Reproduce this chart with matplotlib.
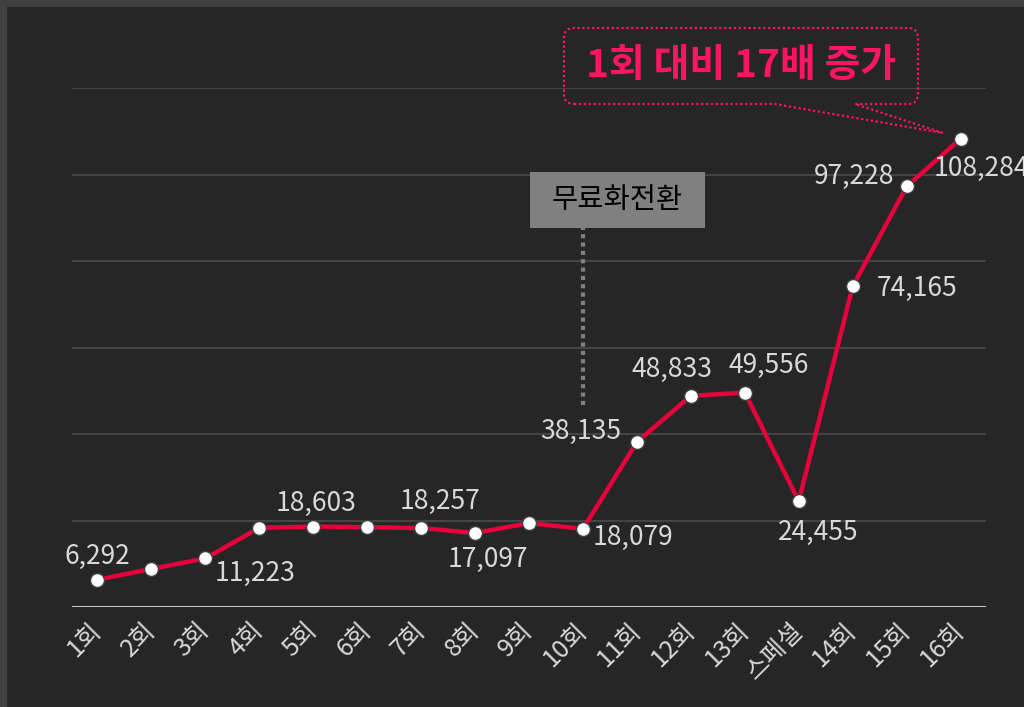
import matplotlib
matplotlib.use("Agg")
import matplotlib.pyplot as plt
from matplotlib.patches import Rectangle, PathPatch
from matplotlib.path import Path

plt.rcParams['font.family'] = ['Noto Sans CJK KR', 'DejaVu Sans']

episodes = ['1회', '2회', '3회', '4회', '5회', '6회', '7회', '8회', '9회', '10회',
            '11회', '12회', '13회', '스페셜', '14회', '15회', '16회']
viewers = [6292, 8800, 11223, 18300, 18603, 18450, 18257, 17097, 19400, 18079,
           38135, 48833, 49556, 24455, 74165, 97228, 108284]
labelled = [0, 2, 4, 6, 7, 9, 10, 11, 12, 13, 14, 15, 16]
y_ticks = [20000, 40000, 60000, 80000, 100000, 120000]

# label offsets in pixels (dx, dy, ha)
offsets = {
    0: (0, 23, 'center'), 2: (9, -15, 'left'), 4: (3, 23, 'center'),
    6: (19, 27, 'center'), 7: (13, -26, 'center'), 9: (10, -9, 'left'),
    10: (-16, 11, 'right'), 11: (-19, 26, 'center'), 12: (24, 27, 'center'),
    13: (19, -31, 'center'), 14: (24, -2, 'left'), 15: (-12, 10, 'right'),
    16: (-27, -30, 'left'),
}

bg = '#262626'
line_red = '#e8003d'
pink = '#ff1466'
light = '#d9d9d9'

fig = plt.figure(figsize=(10.24, 7.07), dpi=100, facecolor='#404040')
fig.add_artist(Rectangle((7 / 1024, 0), 1, 1 - 7 / 707, transform=fig.transFigure,
                         facecolor=bg, edgecolor='none', zorder=-1))
ax = fig.add_axes([72 / 1024, 1 - 607 / 707, (986 - 72) / 1024, (607 - 88) / 707])
ax.set_facecolor(bg)

x = list(range(len(episodes)))
ax.set_xlim(-0.47, len(episodes) - 0.53)
ax.set_ylim(0, 120000)

for t in y_ticks:
    ax.axhline(t, color='#444444', lw=1.5, zorder=1)
ax.axhline(0, color=light, lw=2, zorder=2)

ax.plot(x, viewers, color=line_red, lw=3.2, zorder=3,
        marker='o', markersize=10, markerfacecolor='white',
        markeredgecolor='#404040', markeredgewidth=1)

for i in labelled:
    dx, dy, ha = offsets[i]
    ax.annotate(f'{viewers[i]:,}', (i, viewers[i]), xytext=(dx, dy),
                textcoords='offset pixels', ha=ha, va='center',
                fontsize=19, color=light, fontweight='light', zorder=5,
                annotation_clip=False)

for s in ax.spines.values():
    s.set_visible(False)
ax.set_yticks([])
ax.set_xticks(x)
ax.set_xticklabels(episodes, rotation=45, ha='right', va='center',
                   rotation_mode='anchor', fontsize=18, color=light,
                   fontweight='light')
ax.tick_params(axis='x', length=0, pad=14)

# 무료화전환 marker
free_idx = 9
ax.vlines(free_idx, 46700, 87600, color='#808080', lw=3, linestyles=(0, (1, 1)), zorder=2)
ax.add_patch(Rectangle((8.02, 87600), 3.24, 13000, facecolor='#808080',
                       edgecolor='none', zorder=4, clip_on=False))
ax.text(9.64, 94100, '무료화전환', ha='center', va='center', fontsize=20.5,
        color='black', zorder=5)


# callout bubble (figure pixel coordinates, y from top)
def px(px_x, px_y):
    return (px_x / 1024, 1 - px_y / 707)


L, R, T, B, r = 564, 918, 28, 104, 10
verts = [px(L + r, B), px(775, B), px(943, 133), px(855, B), px(R - r, B),
         px(R, B), px(R, B - r), px(R, T + r), px(R, T), px(R - r, T),
         px(L + r, T), px(L, T), px(L, T + r), px(L, B - r), px(L, B),
         px(L + r, B)]
codes = [Path.MOVETO, Path.LINETO, Path.LINETO, Path.LINETO, Path.LINETO,
         Path.CURVE3, Path.CURVE3, Path.LINETO, Path.CURVE3, Path.CURVE3,
         Path.LINETO, Path.CURVE3, Path.CURVE3, Path.LINETO, Path.CURVE3,
         Path.CURVE3]
fig.add_artist(PathPatch(Path(verts, codes), transform=fig.transFigure,
                         facecolor='none', edgecolor=pink, lw=1.6,
                         linestyle=(0, (1, 1.2)), zorder=6))
fig.text(741 / 1024, 1 - 66 / 707, '1회 대비 17배 증가', ha='center', va='center',
         fontsize=28, color=pink, fontweight='heavy', zorder=7)

fig.savefig('out.png', facecolor=fig.get_facecolor())
